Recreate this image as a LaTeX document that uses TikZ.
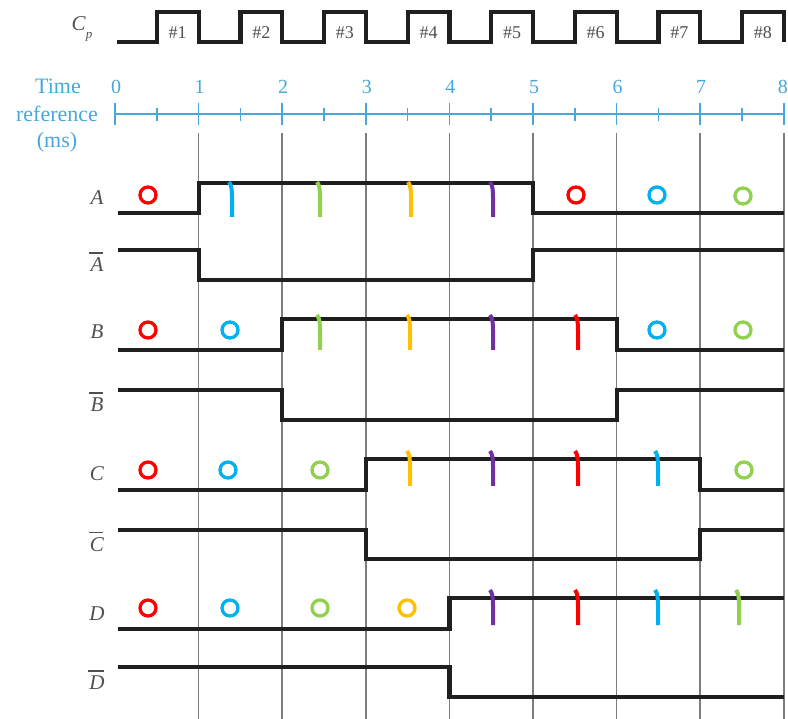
\documentclass[tikz,border=0pt]{standalone}
\usepackage{fontspec}
\setmainfont{Liberation Serif}
\definecolor{mred}{RGB}{255,0,0}
\definecolor{mblue}{RGB}{0,176,240}
\definecolor{mgreen}{RGB}{146,208,80}
\definecolor{myellow}{RGB}{255,192,0}
\definecolor{mpurple}{RGB}{112,48,160}
\definecolor{tblue}{RGB}{70,168,220}
\definecolor{lgray}{RGB}{80,80,80}
\definecolor{ggray}{RGB}{125,125,125}
\tikzset{
  sig/.style={line width=4.2pt, black!88, line join=miter},
  gridline/.style={line width=1.7pt, ggray},
  axisline/.style={line width=1.5pt, tblue},
  ring/.style={line width=3.3pt},
  hitmark/.style={line width=4pt, line cap=butt},
  siglabel/.style={font=\fontsize{21}{24}\selectfont\itshape, text=lgray, inner sep=0pt},
  numlabel/.style={font=\fontsize{20}{23}\selectfont, text=tblue, inner sep=0pt},
  timelabel/.style={font=\fontsize{22}{25}\selectfont, text=tblue, inner sep=0pt},
  pulselabel/.style={font=\fontsize{18}{20}\selectfont, text=lgray, inner sep=0pt},
  barline/.style={line width=1.3pt, lgray}
}
\newcommand\ringat[3]{\draw[ring,#1] (#2,#3) circle[radius=8pt];}
\newcommand\hitat[3]{\draw[hitmark,#1] ({#2-3},{#3}) .. controls ({#2-0.5},{#3+3}) and ({#2},{#3+8}) .. ({#2},{#3+15}) -- ({#2},{#3+35});}
\newcommand\barlabel[3]{%
  \node[siglabel] (#1) at (97,#2) {#3};
  \draw[barline] ([xshift=-1pt,yshift=5pt]#1.north west) -- ([xshift=-1pt,yshift=5pt]#1.north east);}
\begin{document}
\begin{tikzpicture}[x=1pt,y=-1pt]
\useasboundingbox (0,0) rectangle (788,719);
\fill[white] (0,0) rectangle (788,719);

% grid lines
\foreach \k in {1,...,8}{
  \draw[gridline] ({115+83.6*\k},133) -- ({115+83.6*\k},719);
}

% clock
\node[siglabel] (cp) at (82,29) {C\raisebox{-0.35em}{\fontsize{13}{15}\selectfont p}};
\draw[sig] (117,42) \foreach \k in {1,...,8}{ -| ({115+83.6*(\k-0.5)},12) -| ({115+83.6*\k},42) };
\foreach \k in {1,...,8}{
  \node[pulselabel] (p\k) at ({115+83.6*(\k-0.25)},33) {\#\k};
}

% time axis
\node[timelabel] (tl1) at (58,86) {Time};
\node[timelabel] (tl2) at (57,114) {reference};
\node[timelabel] (tl3) at (57,142) {(ms)};
\draw[axisline] (115,114) -- (784,114);
\foreach \k in {0,...,8}{
  \draw[axisline] ({115+83.6*\k},103) -- ({115+83.6*\k},125);
}
\foreach \k in {0,...,7}{
  \node[numlabel] (n\k) at ({116+83.6*\k},87) {\k};
}
\node[numlabel, anchor=east] (n8) at (788,87) {8};
\foreach \k in {0,...,7}{
  \draw[axisline] ({115+83.6*(\k+0.5)},108) -- ({115+83.6*(\k+0.5)},121);
}

% signal labels
\node[siglabel] (la) at (97,198) {A};
\barlabel{lab}{265}{A}
\node[siglabel] (lb) at (97,332) {B};
\barlabel{lbb}{405}{B}
\node[siglabel] (lc) at (97,474) {C};
\barlabel{lcb}{545}{C}
\node[siglabel] (ld) at (97,614) {D};
\barlabel{ldb}{683}{D}

% signals
\draw[sig] (118,213) -| (198.6,183) -| (533,213) -- (784,213);
\draw[sig] (118,250) -| (198.6,280) -| (533,250) -- (784,250);
\draw[sig] (118,350) -| (282.2,319) -| (616.6,350) -- (784,350);
\draw[sig] (118,390) -| (282.2,420) -| (616.6,390) -- (784,390);
\draw[sig] (118,490) -| (365.8,459) -| (700.2,490) -- (784,490);
\draw[sig] (118,530) -| (365.8,559) -| (700.2,530) -- (784,530);
\draw[sig] (118,629) -| (449.4,598) -- (784,598);
\draw[sig] (118,667) -| (449.4,697) -- (784,697);

% rings
\ringat{mred}{148}{195}
\ringat{mred}{576}{195}
\ringat{mblue}{657}{195}
\ringat{mgreen}{743}{196}
\ringat{mred}{148}{330}
\ringat{mblue}{230}{330}
\ringat{mblue}{657}{330}
\ringat{mgreen}{743}{330}
\ringat{mred}{148}{470}
\ringat{mblue}{228}{470}
\ringat{mgreen}{320}{470}
\ringat{mgreen}{744}{470}
\ringat{mred}{148}{608}
\ringat{mblue}{230}{608}
\ringat{mgreen}{320}{608}
\ringat{myellow}{407}{608}

% marks
\hitat{mblue}{232}{182}
\hitat{mgreen}{320}{182}
\hitat{myellow}{411}{182}
\hitat{mpurple}{493}{182}
\hitat{mgreen}{320}{315}
\hitat{myellow}{410}{315}
\hitat{mpurple}{493}{315}
\hitat{mred}{578}{315}
\hitat{myellow}{410}{451}
\hitat{mpurple}{493}{451}
\hitat{mred}{578}{451}
\hitat{mblue}{658}{451}
\hitat{mpurple}{493}{590}
\hitat{mred}{578}{590}
\hitat{mblue}{658}{590}
\hitat{mgreen}{739}{590}
\end{tikzpicture}
\end{document}
